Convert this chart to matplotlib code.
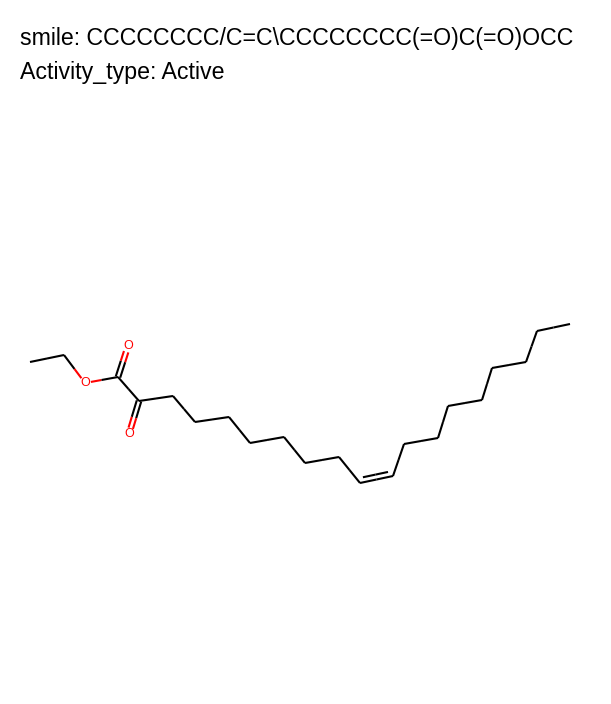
import numpy as np
import matplotlib
matplotlib.use("Agg")
import matplotlib.pyplot as plt

title_lines = ["smile: CCCCCCCC/C=C\\CCCCCCCC(=O)C(=O)OCC", "Activity_type: Active"]
# atom symbols and 2D layout positions (pixel space of the drawing)
elements = ["C","C","O","C","O","C","O"] + ["C"]*17
ax_ = [30,64,85,118,128,139,129,173,195,229,250,284,305,339,360,393,404,438,448,482,492,526,537,570]
ay_ = [362,355,383,377,346,401,434,396,422,417,443,437,463,457,483,476,444,438,406,400,368,362,331,324]
# bonds: (i, j, order)
bonds = [(0,1,1),(1,2,1),(2,3,1),(3,4,2),(3,5,1),(5,6,2),(5,7,1)] + \
        [(i,i+1,1) for i in range(7,23)]
bonds = [b if b[:2] != (14,15) else (14,15,2) for b in bonds]

fig = plt.figure(figsize=(6.11,7.04), dpi=100)
ax = fig.add_axes([0,0,1,1])
ax.set_xlim(0,611); ax.set_ylim(704,0); ax.axis("off")
col = {"C":"black","O":"#ff0000"}
lw = 1.5
X = np.array(ax_, float); Y = np.array(ay_, float)

def seg(p, q, ci, cj, ti, tj):
    d = q - p; L = np.hypot(*d); u = d / L
    a = p + u*ti; b = q - u*tj; m = (p+q)/2
    ax.plot([a[0],m[0]],[a[1],m[1]], color=ci, lw=lw, solid_capstyle="butt")
    ax.plot([m[0],b[0]],[m[1],b[1]], color=cj, lw=lw, solid_capstyle="butt")

for i,j,o in bonds:
    p = np.array([X[i],Y[i]]); q = np.array([X[j],Y[j]])
    ti = 6 if elements[i]=="O" else 0
    tj = 6 if elements[j]=="O" else 0
    ci, cj = col[elements[i]], col[elements[j]]
    if o == 1:
        seg(p,q,ci,cj,ti,tj)
    else:
        d = q-p; u = d/np.hypot(*d); n = np.array([-u[1],u[0]])
        if elements[j]=="O":
            off = 2.3
            seg(p+n*off,q+n*off,ci,cj,ti,tj); seg(p-n*off,q-n*off,ci,cj,ti,tj)
        else:
            seg(p,q,ci,cj,0,0)
            n2 = n if n[1] < 0 else -n
            L = np.hypot(*d)
            seg(p+n2*5+u*L*0.12, q+n2*5-u*L*0.12, ci, cj, 0, 0)

for k,e in enumerate(elements):
    if e != "C":
        ax.text(X[k], Y[k], e, color=col[e], fontsize=9, ha="center", va="center",
                family="Liberation Sans")

ax.text(20, 38, title_lines[0], fontsize=16.7, family="Liberation Sans", va="center")
ax.text(20, 72, title_lines[1], fontsize=16.7, family="Liberation Sans", va="center")
fig.savefig("out.png", dpi=100)
